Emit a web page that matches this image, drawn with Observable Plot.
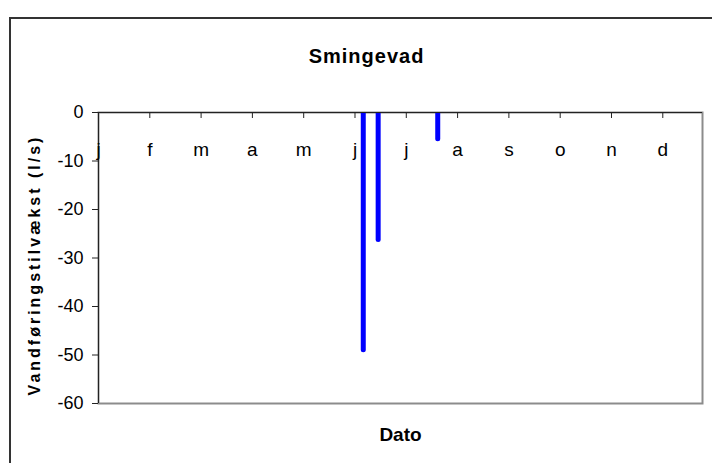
<!DOCTYPE html>
<html>
<head>
<meta charset="utf-8">
<script src="https://cdn.jsdelivr.net/npm/d3@7"></script>
<script src="https://cdn.jsdelivr.net/npm/@observablehq/plot@0.6"></script>
<style>
  html, body { margin: 0; padding: 0; background: #fff; overflow: hidden; }
  #wrap { position: relative; width: 712px; height: 463px; overflow: hidden; }
  #border { position: absolute; left: 9px; top: 17px; width: 760px; height: 520px;
            border: 2px solid #333; box-sizing: border-box; pointer-events: none; }
  #chart { position: absolute; left: 0; top: 0; }
</style>
</head>
<body>
<div id="wrap"><div id="chart"></div><div id="border"></div></div>
<script>
// ---- data ----
const title = "Smingevad";
const yLabel = "Vandføringstilvækst (l/s)";
const xLabel = "Dato";
const domainDates = ["2007-01-01", "2008-01-01"];
const tickDates = ["2007-01-01","2007-02-01","2007-03-04","2007-04-04","2007-05-05","2007-06-05",
                   "2007-07-06","2007-08-06","2007-09-06","2007-10-07","2007-11-07","2007-12-08"];
const tickLabels = ["j","f","m","a","m","j","j","a","s","o","n","d"];
const yTicks = [0, -10, -20, -30, -40, -50, -60];
const barDates = ["2007-06-10", "2007-06-19", "2007-07-25"];
const barValues = [-49, -26.3, -5.5];

const parse = d3.utcParse("%Y-%m-%d");
const bars = barDates.map((d, i) => ({date: parse(d), value: barValues[i]}));
const ticks = tickDates.map((d, i) => ({date: parse(d), label: tickLabels[i]}));
const domain = domainDates.map(parse);

const font = "Arial, 'Liberation Sans', sans-serif";

const chart = Plot.plot({
  width: 712,
  height: 463,
  marginLeft: 98,
  marginRight: 10,
  marginTop: 112,
  marginBottom: 60,
  style: {fontFamily: font, background: "transparent", color: "#000"},
  x: {type: "utc", domain, axis: null},
  y: {domain: [-60, 0], axis: null},
  marks: [
    Plot.frame({stroke: "#8c8c8c", strokeWidth: 2}),
    Plot.ruleX(bars, {x: "date", y1: 0, y2: "value", stroke: "#0000ff", strokeWidth: 5,
                      strokeLinecap: "round", clip: true}),
    Plot.ruleY([0], {stroke: "#222", strokeWidth: 1}),
    Plot.ruleX([domain[0]], {stroke: "#222", strokeWidth: 1}),
    Plot.axisX({anchor: "top", ticks: ticks.map(d => d.date), tickSize: -5, tickFormat: () => "",
                stroke: "#222"}),
    Plot.text(ticks, {x: "date", text: "label", frameAnchor: "top", dy: 30, fontSize: 19, fill: "#000"}),
    Plot.axisY({anchor: "left", ticks: yTicks, tickSize: 6, tickPadding: 9, fontSize: 18,
                label: null, stroke: "#222", tickFormat: d => String(d).replace("\u2212", "-")}),
    Plot.text([title], {frameAnchor: "top", dx: -34, dy: -64, fontSize: 20, fontWeight: "bold",
                        fill: "#000"}),
    Plot.text([xLabel], {frameAnchor: "bottom", dy: 37, fontSize: 19, fontWeight: "bold", fill: "#000"}),
    Plot.text([yLabel], {frameAnchor: "left", textAnchor: "middle", dx: -64, dy: 7, rotate: -90,
                         fontSize: 16, fontWeight: "bold", fill: "#000"})
  ]
});
document.getElementById("chart").appendChild(chart);

// letter spacing of the stretched-looking titles
d3.select(chart).selectAll("text").each(function() {
  const t = this.textContent;
  if (t === title) this.style.letterSpacing = "1px";
  if (t === yLabel) this.style.letterSpacing = "3px";
});
</script>
</body>
</html>
